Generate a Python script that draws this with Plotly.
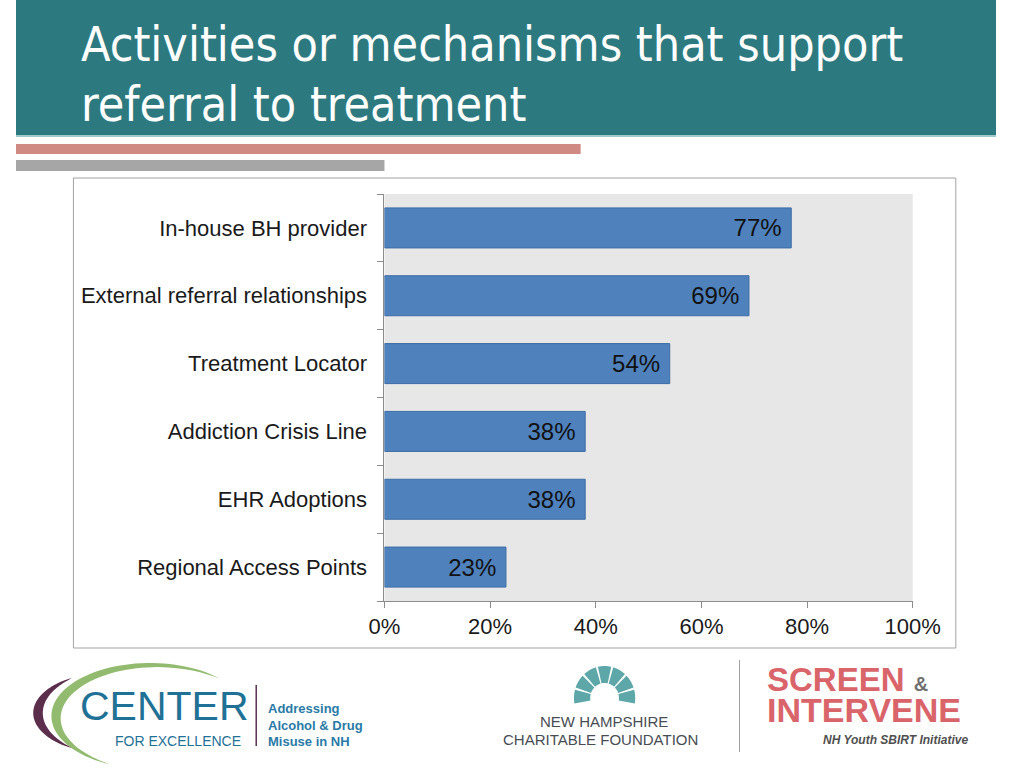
import math
import plotly.graph_objects as go

# data
categories = [
    "In-house BH provider",
    "External referral relationships",
    "Treatment Locator",
    "Addiction Crisis Line",
    "EHR Adoptions",
    "Regional Access Points",
]
values = [77, 69, 54, 38, 38, 23]
x_ticks = [0, 20, 40, 60, 80, 100]
x_tick_labels = ["0%", "20%", "40%", "60%", "80%", "100%"]

W, H = 1024, 768
FONT = "Liberation Sans, Arial, sans-serif"
NARROW = "DejaVu Sans Condensed, Liberation Sans Narrow, Liberation Sans, sans-serif"

COLORS = {
    "teal": "#2c7a80",
    "teal_line": "#9fc9cb",
    "red_bar": "#d08a84",
    "gray_bar": "#a6a6a6",
    "frame": "#a3a3a3",
    "plot_bg": "#e7e7e7",
    "bar": "#4f81bd",
    "bar_edge": "#3c6da6",
    "text": "#1a1a1a",
    "axis": "#8c8c8c",
}


def px(x):
    return x / W


def py(y):
    return 1 - y / H


def rect(x0, y0, x1, y1, fill=None, line=None, lw=1):
    return dict(
        type="rect", xref="paper", yref="paper",
        x0=px(x0), x1=px(x1), y0=py(y1), y1=py(y0),
        fillcolor=fill or "rgba(0,0,0,0)",
        line=dict(color=line or "rgba(0,0,0,0)", width=lw if line else 0),
        layer="below",
    )


def path(points, fill):
    d = "M " + " L ".join(f"{px(x):.5f},{py(y):.5f}" for x, y in points) + " Z"
    return dict(type="path", xref="paper", yref="paper", path=d,
                fillcolor=fill, line=dict(width=0))


def crescent(cx, cy, rx, ry, a0, a1, tmax, n=60):
    # outer ellipse edge, inner edge pulled in by a tapering thickness
    outer, inner = [], []
    for i in range(n + 1):
        f = i / n
        a = math.radians(a0 + (a1 - a0) * f)
        t = tmax * math.sin(math.pi * f) ** 0.8
        outer.append((cx + rx * math.cos(a), cy - ry * math.sin(a)))
        inner.append((cx + (rx - t) * math.cos(a), cy - (ry - t * 0.55) * math.sin(a)))
    return outer + inner[::-1]


def sector(cx, cy, r0, r1, a0, a1, n=8):
    pts = []
    for i in range(n + 1):
        a = math.radians(a0 + (a1 - a0) * i / n)
        pts.append((cx + r1 * math.cos(a), cy - r1 * math.sin(a)))
    for i in range(n, -1, -1):
        a = math.radians(a0 + (a1 - a0) * i / n)
        pts.append((cx + r0 * math.cos(a), cy - r0 * math.sin(a)))
    return pts


def label(x, y, text, size, color, family=FONT, xanchor="left", yanchor="middle"):
    return dict(
        x=px(x), y=py(y), xref="paper", yref="paper", text=text,
        showarrow=False, xanchor=xanchor, yanchor=yanchor,
        font=dict(size=size, color=color, family=family),
    )


fig = go.Figure()

fig.add_trace(go.Bar(
    x=values,
    y=categories,
    orientation="h",
    marker=dict(color=COLORS["bar"], line=dict(color=COLORS["bar_edge"], width=1)),
    # trailing no-break space gives the label some room from the bar end
    text=[f"{v}%\u00a0" for v in values],
    textposition="inside",
    insidetextanchor="end",
    textfont=dict(size=24, color="#111111", family=FONT),
    hoverinfo="skip",
    showlegend=False,
))

shapes = [
    rect(0, 0, W, 135, fill=COLORS["teal"]),
    rect(0, 135, W, 137, fill=COLORS["teal_line"]),
    rect(0, 144, 590, 154, fill=COLORS["red_bar"]),
    rect(0, 160, 385, 171, fill=COLORS["gray_bar"]),
    rect(60, 178, 982, 648, line=COLORS["frame"], lw=1),
    dict(type="line", xref="paper", yref="paper", x0=px(756), x1=px(756),
         y0=py(660), y1=py(752), line=dict(color="#a0a0a0", width=1)),
    dict(type="line", xref="paper", yref="paper", x0=px(251), x1=px(251),
         y0=py(685), y1=py(746), line=dict(color="#5a3050", width=1.5)),
    # Center for Excellence swooshes
    path(crescent(140, 716, 103, 53, 45, 246, 11), "#92bb70"),
    path(crescent(95, 713, 77, 40, 118, 242, 10), "#5b2e4c"),
]

# NH Charitable Foundation arch
for i in range(7):
    a0 = -12 + i * 204 / 7 + 2
    shapes.append(path(sector(615, 698, 15, 32, a0, a0 + 204 / 7 - 4), "#5ea7a9"))

annotations = [
    label(66, 44, "Activities or mechanisms that support", 48, "white", family=NARROW),
    label(66, 104, "referral to treatment", 48, "white", family=NARROW),
    # logos
    label(65, 706, "CENTER", 41, "#1f7196"),
    label(101, 741, "FOR EXCELLENCE", 14, "#1f7196"),
    label(261, 708, "<b>Addressing</b>", 13, "#2a7aa6"),
    label(261, 725, "<b>Alcohol &amp; Drug</b>", 13, "#2a7aa6"),
    label(261, 741, "<b>Misuse in NH</b>", 13, "#2a7aa6"),
    label(614, 721, "NEW HAMPSHIRE", 15, "#474d53", xanchor="center"),
    label(611, 739, "CHARITABLE FOUNDATION", 15, "#474d53", xanchor="center"),
    label(783, 679,
          "<b>SCREEN</b> <span style='font-size:20px;color:#707070'><b>&amp;</b></span>",
          33, "#d9656b"),
    label(783, 710, "<b>INTERVENE</b>", 34, "#d9656b"),
    label(997, 740, "<b><i>NH Youth SBIRT Initiative</i></b>", 12, "#4f4f4f",
          xanchor="right"),
]

fig.update_layout(
    autosize=True,
    margin=dict(l=0, r=0, t=0, b=0),
    paper_bgcolor="white",
    plot_bgcolor=COLORS["plot_bg"],
    bargap=0.41,
    shapes=shapes,
    annotations=annotations,
    font=dict(family=FONT, color=COLORS["text"]),
    xaxis=dict(
        domain=[px(385), px(937)],
        range=[0, 100],
        tickvals=x_ticks,
        ticktext=x_tick_labels,
        showgrid=False, zeroline=False,
        showline=True, linecolor=COLORS["axis"], linewidth=1,
        ticks="outside", ticklen=6, tickcolor=COLORS["axis"],
        tickfont=dict(size=22, color=COLORS["text"]),
        fixedrange=True,
    ),
    yaxis=dict(
        domain=[py(601), py(194)],
        categoryorder="array",
        categoryarray=categories[::-1],
        showgrid=False, zeroline=False,
        showline=True, linecolor=COLORS["axis"], linewidth=1,
        ticks="outside", ticklen=6, tickcolor=COLORS["axis"],
        tickson="boundaries",
        tickfont=dict(size=22, color=COLORS["text"]),
        ticklabelstandoff=12,
        fixedrange=True,
    ),
)

fig.write_html(
    "out.html",
    config={"displayModeBar": False},
    default_width="100vw",
    default_height="100vh",
    post_script=(
        "document.body.style.margin='0';"
        "document.body.style.overflow='hidden';"
        "Plotly.Plots.resize(document.getElementById('{plot_id}'));"
    ),
)
